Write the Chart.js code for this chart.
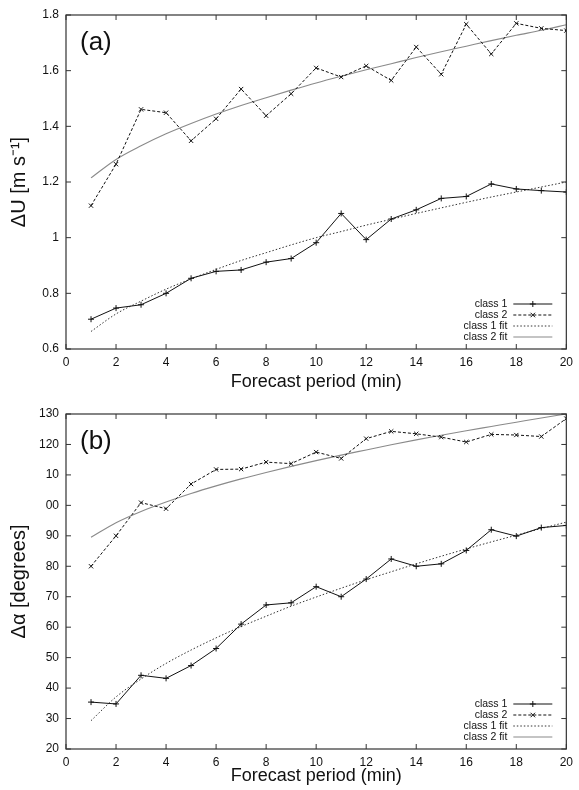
<!DOCTYPE html>
<html>
<head>
<meta charset="utf-8">
<script src="https://cdn.jsdelivr.net/npm/chart.js@4/dist/chart.umd.min.js"></script>
<style>
  html, body { margin: 0; padding: 0; background: #fff; }
  #wrapA { position: absolute; left: 0; top: 0; width: 579px; height: 395px; }
  #wrapB { position: absolute; left: 0; top: 395px; width: 579px; height: 395px; }
</style>
</head>
<body>
<div id="wrapA"><canvas id="chartA" width="579" height="395"></canvas></div>
<div id="wrapB"><canvas id="chartB" width="579" height="395"></canvas></div>
<script>
// ---------- data ----------
const forecastMinutes = [1,2,3,4,5,6,7,8,9,10,11,12,13,14,15,16,17,18,19,20];
const seriesNames = ['class 1', 'class 2', 'class 1 fit', 'class 2 fit'];
const xTickLabels = ['0','2','4','6','8','10','12','14','16','18','20'];

// panel (a): ΔU [m s-1]
const duClass1 = [0.707,0.747,0.759,0.800,0.854,0.879,0.884,0.912,0.925,0.982,1.087,0.993,1.067,1.100,1.141,1.148,1.193,1.175,1.169,1.164];
const duClass2 = [1.115,1.264,1.461,1.449,1.348,1.427,1.534,1.438,1.517,1.610,1.577,1.617,1.565,1.685,1.587,1.767,1.660,1.770,1.752,1.744];
const duFit1   = [0.663,0.726,0.772,0.815,0.852,0.886,0.918,0.946,0.974,1.000,1.022,1.045,1.066,1.087,1.107,1.127,1.146,1.164,1.182,1.200];
const duFit2   = [1.215,1.281,1.330,1.373,1.410,1.444,1.475,1.503,1.530,1.556,1.580,1.603,1.625,1.647,1.668,1.688,1.708,1.727,1.745,1.765];
const duTickLabels = ['0.6','0.8','1','1.2','1.4','1.6','1.8'];

// panel (b): Δα [degrees]
const daClass1 = [35.4,34.8,44.2,43.2,47.4,53.0,61.0,67.3,68.0,73.3,70.0,75.8,82.4,80.0,80.8,85.2,92.0,89.9,92.7,93.4];
const daClass2 = [80.0,90.0,100.9,98.9,107.0,111.8,111.9,114.2,113.7,117.5,115.4,121.9,124.3,123.5,122.4,120.8,123.3,123.1,122.6,128.5];
const daFit1   = [29.3,37.1,43.0,48.1,52.5,56.5,60.2,63.6,66.9,69.9,72.8,75.6,78.2,80.8,83.3,85.7,88.0,90.2,92.4,94.5];
const daFit2   = [89.5,94.3,98.0,101.1,103.9,106.4,108.7,110.8,112.8,114.7,116.5,118.2,119.9,121.5,123.0,124.5,125.9,127.3,128.7,130.0];
const daTickLabels = ['20','30','40','50','60','70','80','90','00','10','120','130'];

// ---------- styling ----------
const FONT = "'Liberation Sans', Arial, Helvetica, sans-serif";
Chart.defaults.font.family = FONT;
Chart.defaults.color = '#111';

function pts(vals) { return vals.map((v, i) => ({ x: forecastMinutes[i], y: v })); }

function makeDatasets(c1, c2, f1, f2) {
  return [
    { label: seriesNames[0], data: pts(c1), borderColor: '#111', borderWidth: 1, borderDash: [],
      pointStyle: 'cross', pointRadius: 3, pointBorderWidth: 1, pointBorderColor: '#111', tension: 0, order: 1 },
    { label: seriesNames[1], data: pts(c2), borderColor: '#111', borderWidth: 1, borderDash: [3, 2],
      pointStyle: 'crossRot', pointRadius: 3, pointBorderWidth: 1, pointBorderColor: '#111', tension: 0, order: 2 },
    { label: seriesNames[2], data: pts(f1), borderColor: '#333', borderWidth: 1, borderDash: [1.5, 2],
      pointRadius: 0, cubicInterpolationMode: 'monotone', order: 3 },
    { label: seriesNames[3], data: pts(f2), borderColor: '#8a8a8a', borderWidth: 1.1, borderDash: [],
      pointRadius: 0, cubicInterpolationMode: 'monotone', order: 4 }
  ];
}

function drawMarker(ctx, style, x, y, r) {
  ctx.beginPath();
  if (style === 'cross') {
    ctx.moveTo(x - r, y); ctx.lineTo(x + r, y);
    ctx.moveTo(x, y - r); ctx.lineTo(x, y + r);
  } else if (style === 'crossRot') {
    const d = r * 0.75;
    ctx.moveTo(x - d, y - d); ctx.lineTo(x + d, y + d);
    ctx.moveTo(x - d, y + d); ctx.lineTo(x + d, y - d);
  }
  ctx.stroke();
}

const framePlugin = {
  id: 'gnuframe',
  afterDraw(chart, args, opts) {
    const ctx = chart.ctx;
    const a = chart.chartArea;
    const xs = chart.scales.x, ys = chart.scales.y;
    ctx.save();
    ctx.setLineDash([]);
    // frame
    ctx.strokeStyle = '#333';
    ctx.lineWidth = 1.2;
    ctx.strokeRect(a.left, a.top, a.right - a.left, a.bottom - a.top);
    // inward tick marks (mirrored)
    const tl = 5;
    ctx.lineWidth = 1;
    ctx.beginPath();
    xs.ticks.forEach(t => {
      const px = xs.getPixelForValue(t.value);
      ctx.moveTo(px, a.bottom); ctx.lineTo(px, a.bottom - tl);
      ctx.moveTo(px, a.top); ctx.lineTo(px, a.top + tl);
    });
    ys.ticks.forEach(t => {
      const py = ys.getPixelForValue(t.value);
      ctx.moveTo(a.left, py); ctx.lineTo(a.left + tl, py);
      ctx.moveTo(a.right, py); ctx.lineTo(a.right - tl, py);
    });
    ctx.stroke();
    // panel label
    ctx.fillStyle = '#111';
    ctx.font = '26px ' + FONT;
    ctx.textAlign = 'left';
    ctx.textBaseline = 'middle';
    ctx.fillText(opts.panel, a.left + 14, a.top + 28);
    // legend (text left of sample, right-aligned)
    ctx.font = '10.5px ' + FONT;
    ctx.textAlign = 'right';
    const textRight = a.right - 59;
    const lx0 = a.right - 53, lx1 = a.right - 14;
    chart.data.datasets.forEach((ds, i) => {
      const y = a.bottom - 45 + i * 11;
      ctx.fillStyle = '#111';
      ctx.fillText(ds.label, textRight, y);
      ctx.strokeStyle = ds.borderColor;
      ctx.lineWidth = ds.borderWidth;
      ctx.setLineDash(ds.borderDash || []);
      ctx.beginPath(); ctx.moveTo(lx0, y); ctx.lineTo(lx1, y); ctx.stroke();
      ctx.setLineDash([]);
      if (ds.pointRadius > 0) {
        ctx.lineWidth = 1;
        drawMarker(ctx, ds.pointStyle, (lx0 + lx1) / 2, y, ds.pointRadius);
      }
    });
    ctx.restore();
  }
};

function makeChart(id, cfg) {
  return new Chart(document.getElementById(id), {
    type: 'line',
    data: { datasets: makeDatasets(cfg.c1, cfg.c2, cfg.f1, cfg.f2) },
    plugins: [framePlugin],
    options: {
      responsive: false,
      animation: false,
      events: [],
      layout: { padding: { left: 0, right: 6, top: cfg.padTop, bottom: 0 } },
      plugins: {
        legend: { display: false },
        tooltip: { enabled: false },
        gnuframe: { panel: cfg.panel }
      },
      scales: {
        x: {
          type: 'linear', min: 0, max: 20,
          grid: { display: false, drawTicks: false },
          border: { display: false },
          ticks: { stepSize: 2, padding: 6, font: { size: 12 }, color: '#111',
                   callback: (v, i) => xTickLabels[i] },
          title: { display: true, text: 'Forecast period (min)', font: { size: 18 }, color: '#111',
                   padding: { top: 0, bottom: cfg.xTitlePad } },
          afterFit: s => { s.height = cfg.xHeight; }
        },
        y: {
          type: 'linear', min: cfg.yMin, max: cfg.yMax,
          grid: { display: false, drawTicks: false },
          border: { display: false },
          ticks: { stepSize: cfg.yStep, padding: 7, font: { size: 12 }, color: '#111',
                   callback: (v, i) => cfg.yLabels[i] },
          title: { display: true, text: cfg.yTitle, font: { size: 20 }, color: '#111',
                   padding: { top: 7, bottom: 0 } },
          afterFit: s => { s.width = 66; }
        }
      }
    }
  });
}

makeChart('chartA', {
  c1: duClass1, c2: duClass2, f1: duFit1, f2: duFit2,
  yMin: 0.6, yMax: 1.8, yStep: 0.2, yLabels: duTickLabels,
  yTitle: 'ΔU [m s⁻¹]', panel: '(a)', padTop: 15, xHeight: 46, xTitlePad: 2
});
makeChart('chartB', {
  c1: daClass1, c2: daClass2, f1: daFit1, f2: daFit2,
  yMin: 20, yMax: 130, yStep: 10, yLabels: daTickLabels,
  yTitle: 'Δα [degrees]', panel: '(b)', padTop: 19, xHeight: 41, xTitlePad: 3
});
</script>
</body>
</html>
